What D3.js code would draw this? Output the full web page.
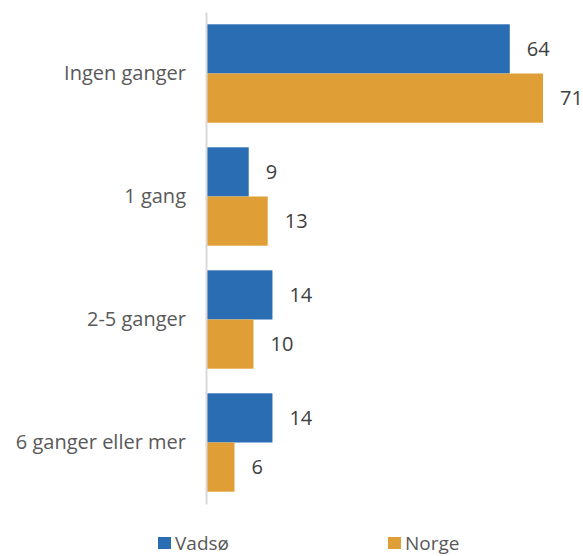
<!DOCTYPE html>
<html>
<head>
<meta charset="utf-8">
<script src="https://cdn.jsdelivr.net/npm/d3@7"></script>
<style>
  html, body { margin: 0; padding: 0; background: #fff; }
  svg { display: block; font-family: "Open Sans", "Noto Sans", sans-serif; }
</style>
</head>
<body>
<svg id="chart" width="583" height="556"></svg>
<script>
// Answer categories and the share (%) for each area
const categories = ["Ingen ganger", "1 gang", "2-5 ganger", "6 ganger eller mer"];
const seriesNames = ["Vadsø", "Norge"];
const vadso = [64, 9, 14, 14];
const norge = [71, 13, 10, 6];
const colors = ["#2b6db3", "#e09f36"];

const series = [vadso, norge];
const svg = d3.select("#chart");
const fontSize = 20;

const x0 = 206;
const x = d3.scaleLinear().domain([0, 71]).range([x0, 543]);
const y = d3.scaleBand().domain(categories).range([12, 504]).paddingInner(0.2).paddingOuter(0.1);
const ySub = d3.scaleBand().domain(seriesNames).range([0, y.bandwidth()]);

// Bars with value labels
categories.forEach((cat, i) => {
  seriesNames.forEach((name, s) => {
    const v = series[s][i];
    svg.append("rect")
      .attr("x", x(0))
      .attr("y", y(cat) + ySub(name))
      .attr("width", x(v) - x(0))
      .attr("height", ySub.bandwidth())
      .attr("fill", colors[s]);
    svg.append("text")
      .attr("x", x(v) + 17)
      .attr("y", y(cat) + ySub(name) + ySub.bandwidth() / 2)
      .attr("dy", "0.35em")
      .attr("font-size", fontSize)
      .attr("fill", "#404040")
      .text(v);
  });
});

// Category axis
const axis = svg.append("g").attr("transform", `translate(${x0},0)`)
  .call(d3.axisLeft(y).tickSize(0).tickPadding(20));
axis.select(".domain").attr("stroke", "#d9d9d9").attr("stroke-width", 2);
axis.selectAll("text").attr("font-size", fontSize).attr("fill", "#595959")
  .attr("font-family", "\"Open Sans\", \"Noto Sans\", sans-serif");

// Legend
const legendX = [158, 388];
seriesNames.forEach((name, s) => {
  const g = svg.append("g").attr("transform", `translate(${legendX[s]},536)`);
  g.append("rect").attr("y", 1).attr("width", 13).attr("height", 12).attr("fill", colors[s]);
  g.append("text").attr("x", 17).attr("y", 7).attr("dy", "0.35em")
    .attr("font-size", 19).attr("fill", "#595959").text(name);
});
</script>
</body>
</html>
